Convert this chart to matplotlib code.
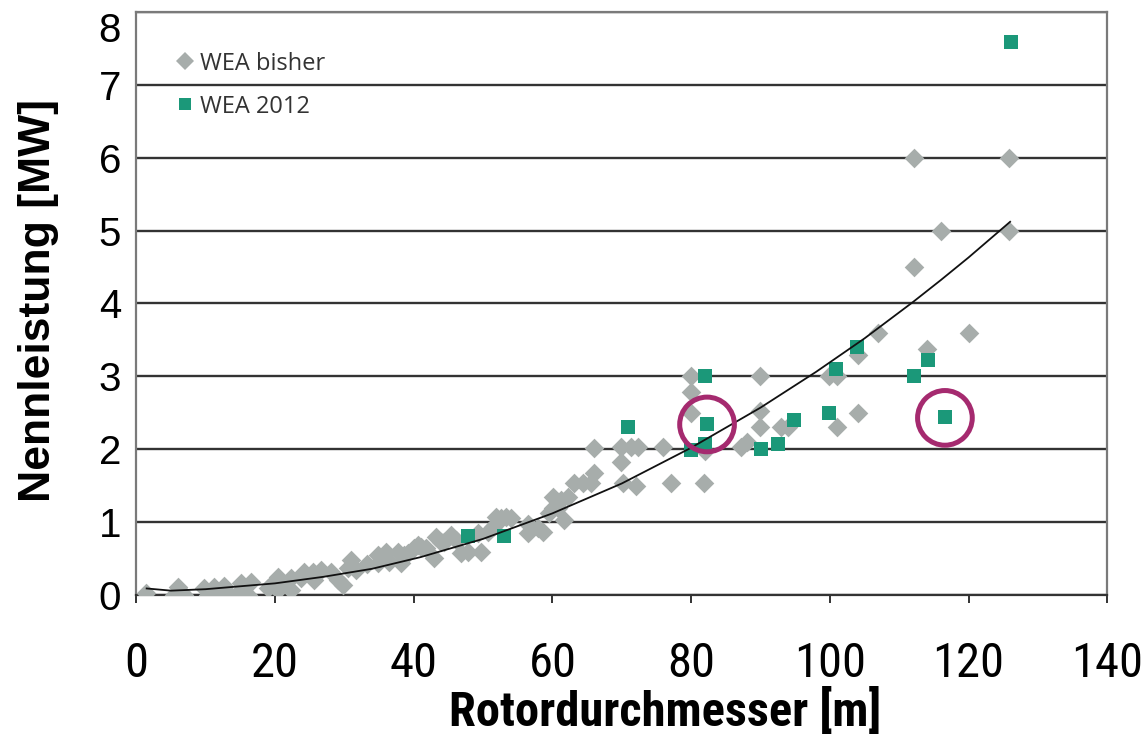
import numpy as np
import matplotlib
matplotlib.use("Agg")
import matplotlib.pyplot as plt
from matplotlib import font_manager
from matplotlib.font_manager import FontProperties
from matplotlib.lines import Line2D

# %% Data
# WEA bisher (grey diamonds): rotor diameter [m], rated power [MW]
bisher_x = [1.4, 5.5, 6.0, 6.5, 6.9, 9.8, 10.4, 11.2, 11.8, 12.7, 13.3, 14.7, 15.1,
            16.1, 16.6, 19.0, 19.5, 19.9, 20.5, 20.5, 20.9,
            22.3, 22.3, 23.8, 24.2, 25.5, 25.6, 26.7, 28.1, 29.1, 29.8, 30.5, 31.0,
            31.7, 33.2, 34.9, 34.9, 36.0, 36.5, 37.8, 38.2, 38.6, 39.2, 40.1, 40.6,
            41.0, 41.8, 42.9, 43.2, 43.9, 44.4, 45.4, 46.1, 46.8, 47.8, 49.3, 49.7,
            50.7, 51.4, 51.9, 51.9, 52.6, 53.3, 54.0, 56.5, 56.5, 57.9, 58.6, 59.5,
            60.1, 60.1, 60.8, 60.8, 61.2, 61.7, 62.2, 63.1, 64.4, 65.6, 66.0, 66.0,
            69.9, 69.9, 70.2, 71.3, 72.0, 72.3, 75.9, 77.1, 80.0, 80.0, 80.0, 81.8,
            82.0, 87.2, 88.0, 90.0, 90.0, 90.0, 93.0, 94.0, 99.9, 101.0, 101.0,
            104.0, 104.0, 107.0, 112.1, 112.1, 114.0, 116.0, 120.0, 125.9, 125.9]
bisher_y = [0.03, 0.0, 0.11, 0.04, 0.0, 0.10, 0.0, 0.11, 0.03, 0.12, 0.03, 0.03, 0.16,
            0.0, 0.18, 0.10, 0.14, 0.16, 0.07, 0.25, 0.18,
            0.07, 0.23, 0.23, 0.32, 0.32, 0.21, 0.34, 0.32, 0.21, 0.14, 0.37, 0.48,
            0.34, 0.42, 0.55, 0.44, 0.59, 0.45, 0.59, 0.44, 0.55, 0.57, 0.64, 0.68,
            0.66, 0.64, 0.51, 0.80, 0.73, 0.73, 0.82, 0.75, 0.57, 0.59, 0.85, 0.59,
            0.86, 0.93, 0.98, 1.07, 1.05, 1.07, 1.05, 0.98, 0.85, 0.92, 0.86, 1.12,
            1.19, 1.34, 1.27, 1.20, 1.30, 1.03, 1.34, 1.53, 1.53, 1.53, 1.67, 2.02,
            1.82, 2.03, 1.53, 2.03, 1.50, 2.03, 2.03, 1.53, 3.00, 2.78, 2.50, 1.53,
            1.97, 2.03, 2.10, 3.00, 2.53, 2.31, 2.31, 2.31, 3.00, 3.00, 2.31,
            3.29, 2.50, 3.60, 6.00, 4.50, 3.38, 5.00, 3.60, 6.00, 5.00]

# WEA 2012 (green squares)
wea2012_x = [47.8, 53.0, 70.9, 80.0, 82.0, 82.3, 82.0, 90.1, 92.5, 94.8, 99.9,
             100.9, 103.9, 112.1, 114.1, 116.6, 126.1]
wea2012_y = [0.81, 0.81, 2.31, 1.99, 3.01, 2.34, 2.07, 2.00, 2.07, 2.40, 2.50,
             3.10, 3.40, 3.00, 3.22, 2.44, 7.58]

# trend line
trend_x = [1.5, 5, 10, 15, 20, 27, 34, 41, 50, 60, 70, 80, 90, 98, 105, 112, 116, 120, 126]
trend_y = [0.09, 0.06, 0.08, 0.12, 0.16, 0.25, 0.36, 0.52, 0.77, 1.12, 1.53, 2.02,
           2.57, 3.06, 3.52, 4.02, 4.32, 4.63, 5.12]

# highlighted turbines (circled)
circle_x = [82.3, 116.6]
circle_y = [2.34, 2.43]

x_ticks = [0, 20, 40, 60, 80, 100, 120, 140]
y_ticks = [0, 1, 2, 3, 4, 5, 6, 7, 8]

# %% Style
GREY = '#a7adab'
GREEN = '#1b9879'
MAGENTA = '#a52a6f'


def find_narrow(bold=False):
    """Return a condensed sans font file if one is installed, else None."""
    prefs = ['Liberation Sans Narrow', 'Roboto Condensed', 'Noto Sans',
             'Open Sans', 'DejaVu Sans', 'Arimo']
    found = []
    for f in font_manager.fontManager.ttflist:
        low = (f.name + ' ' + f.fname).lower()
        cond = ('narrow' in low or 'condensed' in low
                or str(f.stretch) in ('condensed', 'semi-condensed', '75', '87'))
        if not cond or 'italic' in f.fname.lower() or f.style != 'normal':
            continue
        if 'extra' in f.fname.lower() or 'ultra' in f.fname.lower():
            continue
        w = f.weight if isinstance(f.weight, int) else (700 if 'bold' in str(f.weight) else 400)
        if bold != (w >= 600):
            continue
        if bold and w > 750:
            continue
        if not bold and w < 350:
            continue
        rank = next((i for i, p in enumerate(prefs) if f.name.startswith(p)), 99)
        found.append((rank, f.fname))
    found.sort()
    return found[0][1] if found else None


narrow_reg = find_narrow(False)
narrow_bold = find_narrow(True)

plt.rcParams['font.family'] = ['Liberation Sans', 'DejaVu Sans']

fig = plt.figure(figsize=(11.45, 7.41), dpi=100)
ax = fig.add_axes([0.119, 0.197, 0.848, 0.787])

ax.scatter(bisher_x, bisher_y, marker='D', s=100, color=GREY, linewidths=0, zorder=3)
ax.scatter(wea2012_x, wea2012_y, marker='s', s=115, color=GREEN, linewidths=0, zorder=4)
ax.plot(trend_x, trend_y, color='#111111', lw=1.3, zorder=5)
ax.scatter(circle_x, circle_y, marker='o', s=1550, facecolors='none',
           edgecolors=MAGENTA, linewidths=3.6, zorder=6)

ax.set_xlim(0, 140)
ax.set_ylim(0, 8)
ax.set_xticks(x_ticks)
ax.set_yticks(y_ticks)
ax.yaxis.grid(True, color='#333333', lw=1.7, zorder=0)
ax.set_axisbelow(True)
for side in ['left', 'right', 'top', 'bottom']:
    ax.spines[side].set_color('#7a7a7a')
    ax.spines[side].set_linewidth(1.6)
ax.spines['bottom'].set_color('#333333')

ax.tick_params(axis='y', length=0, pad=11, labelsize=29)
ax.tick_params(axis='x', length=6, width=1.4, color='#333333', direction='out',
               pad=27)
if narrow_reg:
    xt_font = FontProperties(fname=narrow_reg, size=35)
else:
    xt_font = FontProperties(family='Liberation Sans', size=30)
for lab in ax.get_xticklabels():
    lab.set_fontproperties(xt_font)
# top label sits just inside the figure as in the reference
ax.get_yticklabels()[-1].set_verticalalignment('top')

if narrow_bold:
    xl_font = FontProperties(fname=narrow_bold, size=35)
else:
    xl_font = FontProperties(family='Liberation Sans', weight='bold', size=31)
ax.set_xlabel('Rotordurchmesser [m]', fontproperties=xl_font)
ax.xaxis.set_label_coords(0.545, -0.16)
ax.set_ylabel('Nennleistung [MW]', fontsize=32, fontweight='bold')
ax.yaxis.set_label_coords(-0.08, 0.505)

handles = [Line2D([], [], marker='D', ls='none', color=GREY, ms=9, mew=0),
           Line2D([], [], marker='s', ls='none', color=GREEN, ms=8, mew=0)]
ax.legend(handles, ['WEA bisher', 'WEA 2012'], loc='upper left', frameon=False,
          prop={'family': 'Open Sans', 'size': 17}, labelcolor='#333333',
          handlelength=0.6, handletextpad=0.35, labelspacing=0.8,
          borderaxespad=0.0, bbox_to_anchor=(0.033, 0.948))

fig.savefig('out.png', dpi=100)
